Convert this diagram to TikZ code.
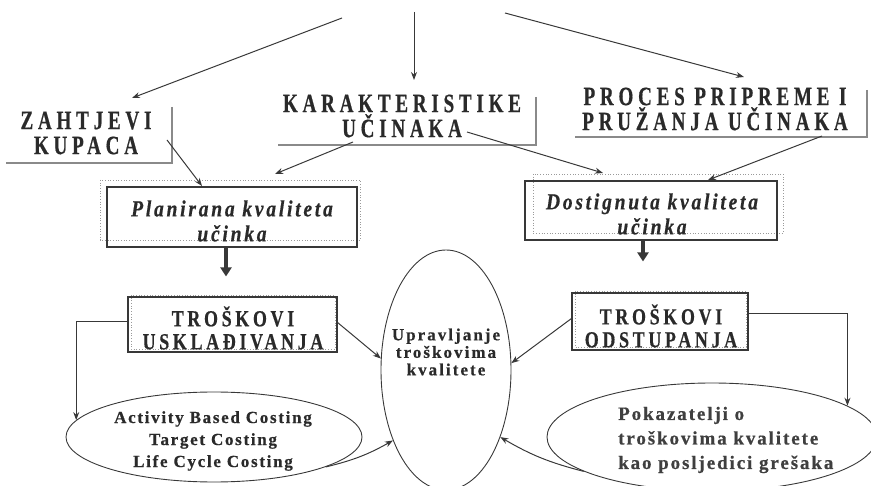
\documentclass[tikz,border=0pt]{standalone}
\usepackage{fontspec}
\setmainfont{Liberation Serif}
\usetikzlibrary{arrows.meta,shapes.geometric,calc}
\newfontfamily\hdrfont[LetterSpace=18,FakeStretch=0.72,FakeBold=0.6]{Liberation Serif}
\newfontfamily\itboxfont[LetterSpace=12,FakeStretch=0.85,FakeBold=0.5]{Liberation Serif}
\newfontfamily\capboxfont[LetterSpace=16,FakeStretch=0.78,FakeBold=0.5]{Liberation Serif}
\newfontfamily\uprfont[LetterSpace=12,FakeBold=0.6]{Liberation Serif}
\newfontfamily\abcfont[LetterSpace=10,FakeBold=0.6]{Liberation Serif}
\newfontfamily\pokfont[LetterSpace=10,FakeBold=0.6]{Liberation Serif}
\definecolor{ink}{HTML}{2A2A2A}
\definecolor{lin}{HTML}{383838}
\definecolor{shdc}{HTML}{8A8A8A}
\definecolor{dotc}{HTML}{9A9A9A}
\begin{document}
\begin{tikzpicture}[x=1pt,y=-1pt,
  hdr/.style={text=ink, align=center, inner sep=0pt, font=\hdrfont\bfseries\fontsize{26.5}{25}\selectfont},
  boxR/.style={draw=lin, line width=1.1pt, inner sep=0pt},
  itT/.style={text=ink, align=center, inner sep=0pt, font=\itboxfont\bfseries\itshape\fontsize{23}{25}\selectfont},
  capT/.style={text=ink, align=center, inner sep=0pt, font=\capboxfont\bfseries\fontsize{23}{23}\selectfont},
  ellS/.style={ellipse, draw=lin, line width=0.9pt, inner sep=0pt},
  uprtext/.style={text=ink, align=center, inner sep=0pt, font=\uprfont\bfseries\fontsize{17}{17.5}\selectfont},
  abctext/.style={text=ink, align=center, inner sep=0pt, font=\abcfont\bfseries\fontsize{17}{22}\selectfont},
  poktext/.style={text=ink!90, align=left, inner sep=0pt, font=\pokfont\bfseries\fontsize{19}{24.5}\selectfont},
  arr/.style={draw=lin, line width=1pt, -{Stealth[length=8pt,width=6pt]}},
  thk/.style={draw=lin, line width=3.5pt, -{Triangle[length=9pt,width=11pt]}},
  shd/.style={draw=shdc, line width=1.6pt},
  dotb/.style={draw=dotc, dotted, line width=0.7pt}]
\useasboundingbox (0,0) rectangle (871,486);

% top-level texts
\node[hdr] (zah) at (86,133) {ZAHTJEVI\\KUPACA};
\node[hdr] (kar) at (402,116) {KARAKTERISTIKE\\UČINAKA};
\node[hdr] (proc) at (715,109) {PROCES PRIPREME I\\PRUŽANJA UČINAKA};
\draw[shd] (172,107) -- (172,163) -- (6,163);
\draw[shd] (536,97) -- (536,145) -- (278,145);
\draw[shd] (867,90) -- (867,137) -- (575,137);

% quality boxes
\draw[dotb] (100,180) rectangle (360,240);
\node[boxR, minimum width=250pt, minimum height=60pt] (plan) at (232,217) {};
\node[itT] (planT) at (232,221) {Planirana kvaliteta\\učinka};
\draw[dotb] (533,174) rectangle (783,233);
\node[boxR, minimum width=252pt, minimum height=59pt] (dost) at (651,210.5) {};
\node[itT] (dostT) at (652,214) {Dostignuta kvaliteta\\učinka};

% cost boxes
\draw[dotb] (131,295) rectangle (335,349);
\node[boxR, minimum width=209pt, minimum height=55pt] (uskl) at (232.5,324.5) {};
\node[capT] (usklT) at (233,328) {TROŠKOVI\\USKLAĐIVANJA};
\draw[dotb] (575,291) rectangle (746,347);
\node[boxR, minimum width=176pt, minimum height=57pt] (odst) at (660,321.5) {};
\node[capT] (odstT) at (661,326) {TROŠKOVI\\ODSTUPANJA};

% ellipses
\node[ellS, minimum width=130pt, minimum height=240pt] (upr) at (446,370) {};
\node[uprtext] (uprT) at (446,352) {Upravljanje\\troškovima\\kvalitete};
\node[ellS, minimum width=296pt, minimum height=90pt] (abc) at (214,437) {};
\node[abctext] (abcT) at (213,441) {Activity Based Costing\\Target Costing\\Life Cycle Costing};
\node[ellS, minimum width=330pt, minimum height=108pt] (pokE) at (712,437) {};
\node[poktext, anchor=west] (pokT) at (618,440) {Pokazatelji o\\troškovima kvalitete\\kao posljedici grešaka};

% connector end points
\coordinate (t1) at (342,18);
\coordinate (t2) at (414,12);
\coordinate (t3) at (505,13);
\coordinate (zahIn) at (132,98);
\coordinate (karIn) at (414,80);
\coordinate (procIn) at (744,77);
\coordinate (zahOut) at (167,140);
\coordinate (planInA) at (202,186);
\coordinate (karOutA) at (353,142);
\coordinate (planInB) at (275,174);
\coordinate (karOutB) at (467,132);
\coordinate (dostInA) at (603,173);
\coordinate (procOut) at (822,136);
\coordinate (dostInB) at (708,180);

% connectors
\draw[arr] (t1) -- (zahIn);
\draw[arr] (t2) -- (karIn);
\draw[arr] (t3) -- (procIn);
\draw[arr] (zahOut) -- (planInA);
\draw[arr] (karOutA) -- (planInB);
\draw[arr] (karOutB) -- (dostInA);
\draw[arr] (procOut) -- (dostInB);
\draw[thk, shorten >=20pt] ([xshift=-6pt]plan.south) -- ([xshift=-6pt]plan.south |- uskl.north);
\draw[thk, shorten >=31pt] ([xshift=-8pt]dost.south) -- ([xshift=-8pt]dost.south |- odst.north);
\draw[arr] ([yshift=3pt]uskl.west) -| (abc.173);
\draw[arr] ([yshift=2pt]uskl.east) -- (upr.170);
\draw[arr] (abc.345) to[bend right=8] (upr.233);
\draw[arr] (pokE.195) to[bend left=8] (upr.309);
\draw[arr] ([yshift=3pt]odst.west) -- (upr.6);
\draw[arr] ([yshift=8pt]odst.east) -| (pokE.13);
\end{tikzpicture}
\end{document}
